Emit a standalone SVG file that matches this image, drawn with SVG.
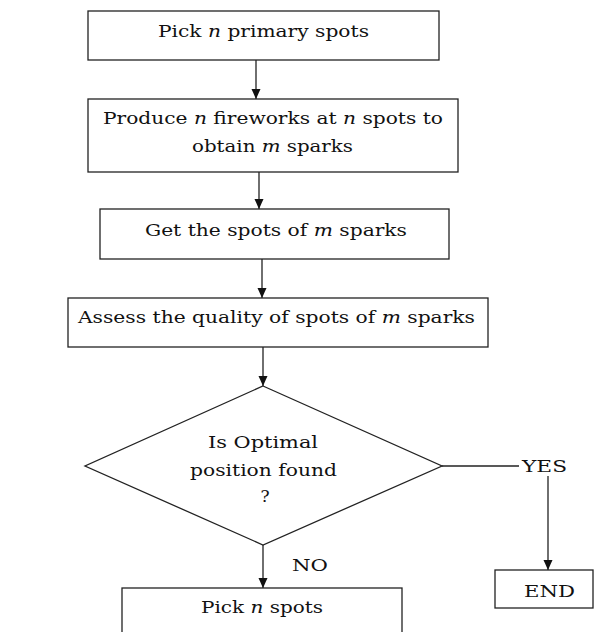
<svg xmlns="http://www.w3.org/2000/svg" width="594" height="632" viewBox="0 0 594 632">
<style>
.box{fill:#fff;stroke:#222;stroke-width:1.3}
.t{font-family:"DejaVu Serif","Liberation Serif",serif;font-size:17px;fill:#111;text-anchor:middle}
.i{font-style:italic}
.c{fill:none;stroke:#222;stroke-width:1.3}
</style>
<defs>
<marker id="ah" markerUnits="userSpaceOnUse" markerWidth="12" markerHeight="12" viewBox="0 0 12 12" refX="10" refY="6" orient="auto">
<path d="M0,1.5 L10,6 L0,10.5 Z" fill="#111"/>
</marker>
</defs>
<rect width="594" height="632" fill="#fff"/>
<g id="connectors">
<line class="c" x1="256" y1="60" x2="256" y2="99" marker-end="url(#ah)"/>
<line class="c" x1="259" y1="172" x2="259" y2="209" marker-end="url(#ah)"/>
<line class="c" x1="262" y1="259" x2="262" y2="298" marker-end="url(#ah)"/>
<line class="c" x1="263" y1="347" x2="263" y2="386" marker-end="url(#ah)"/>
<line class="c" x1="263" y1="545" x2="263" y2="588" marker-end="url(#ah)"/>
<line class="c" x1="442" y1="466" x2="519" y2="466"/>
<line class="c" x1="548" y1="476" x2="548" y2="570" marker-end="url(#ah)"/>
</g>
<g id="n1">
<rect class="box" x="88" y="11" width="351" height="49"/>
<text class="t" x="263.5" y="37" textLength="211" lengthAdjust="spacingAndGlyphs">Pick <tspan class="i">n</tspan> primary spots</text>
</g>
<g id="n2">
<rect class="box" x="88" y="99" width="370" height="73"/>
<text class="t" x="273" y="124" textLength="340" lengthAdjust="spacingAndGlyphs">Produce <tspan class="i">n</tspan> fireworks at <tspan class="i">n</tspan> spots to</text>
<text class="t" x="272.5" y="152" textLength="161" lengthAdjust="spacingAndGlyphs">obtain <tspan class="i">m</tspan> sparks</text>
</g>
<g id="n3">
<rect class="box" x="100" y="209" width="349" height="50"/>
<text class="t" x="276" y="236" textLength="262" lengthAdjust="spacingAndGlyphs">Get the spots of <tspan class="i">m</tspan> sparks</text>
</g>
<g id="n4">
<rect class="box" x="68" y="298" width="420" height="49"/>
<text class="t" x="276.5" y="323" textLength="397" lengthAdjust="spacingAndGlyphs">Assess the quality of spots of <tspan class="i">m</tspan> sparks</text>
</g>
<g id="n5">
<polygon class="box" points="263,386 442,466 263,545 85,466"/>
<text class="t" x="263" y="448" textLength="110" lengthAdjust="spacingAndGlyphs">Is Optimal</text>
<text class="t" x="263.5" y="476" textLength="147" lengthAdjust="spacingAndGlyphs">position found</text>
<text class="t" x="265" y="502">?</text>
</g>
<g id="n6">
<text class="t" x="544.5" y="472" textLength="45" lengthAdjust="spacingAndGlyphs">YES</text>
</g>
<g id="n7">
<rect class="box" x="495" y="570" width="98" height="38"/>
<text class="t" x="549.5" y="597" textLength="51" lengthAdjust="spacingAndGlyphs">END</text>
</g>
<g id="n8">
<text class="t" x="310" y="571" textLength="36" lengthAdjust="spacingAndGlyphs">NO</text>
</g>
<g id="n9">
<rect class="box" x="122" y="588" width="280" height="50"/>
<text class="t" x="262" y="613" textLength="122" lengthAdjust="spacingAndGlyphs">Pick <tspan class="i">n</tspan> spots</text>
</g>
</svg>
